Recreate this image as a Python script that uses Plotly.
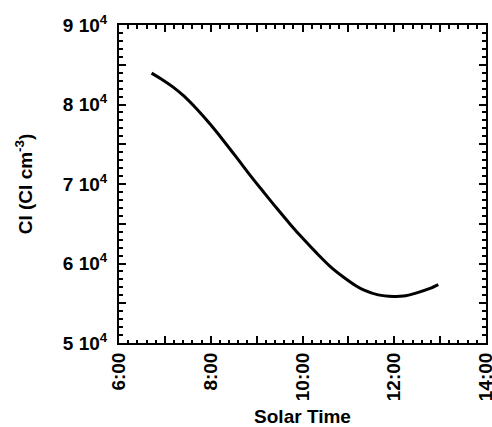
import plotly.graph_objects as go

solar_time = [6.71, 6.97, 7.18, 7.40, 7.69, 7.98, 8.27, 8.57, 8.86, 9.15, 9.44, 9.73,
              10.02, 10.31, 10.60, 10.89, 11.18, 11.33, 11.65, 11.98, 12.20, 12.49,
              12.78, 12.96]
cl_conc = [83950, 83030, 82190, 81140, 79460, 77570, 75510, 73280, 71090, 69000,
           66940, 64950, 63070, 61300, 59650, 58310, 57150, 56690, 56050, 55850,
           55900, 56310, 56860, 57340]

x_tickvals = [6, 7, 8, 9, 10, 11, 12, 13, 14]
x_ticktext = ["6:00", "", "8:00", "", "10:00", "", "12:00", "", "14:00"]
y_tickvals = [50000, 55000, 60000, 65000, 70000, 75000, 80000, 85000, 90000]
y_ticktext = ["5 10<sup>4</sup>", "", "6 10<sup>4</sup>", "", "7 10<sup>4</sup>", "",
              "8 10<sup>4</sup>", "", "9 10<sup>4</sup>"]

FONT = "Liberation Sans, Arial, sans-serif"

fig = go.Figure()
fig.add_trace(go.Scatter(x=solar_time, y=cl_conc, mode="lines",
                         line=dict(color="black", width=3, shape="spline", smoothing=0.8),
                         showlegend=False, hoverinfo="skip"))

axis_common = dict(showline=True, linecolor="black", linewidth=2, mirror="allticks",
                   ticks="inside", tickcolor="black", tickwidth=2, ticklen=7,
                   showgrid=False, zeroline=False, automargin=False,
                   ticklabeloverflow="allow",
                   tickfont=dict(family=FONT, size=19, color="black", weight="bold"))

fig.update_xaxes(range=[6, 14], tickvals=x_tickvals, ticktext=x_ticktext, tickangle=-90,
                 minor=dict(dtick=0.2, tick0=6, ticks="inside", ticklen=3.5,
                            tickcolor="black", tickwidth=2, showgrid=False),
                 title=dict(text="Solar Time", standoff=19,
                            font=dict(family=FONT, size=19, color="black", weight="bold")),
                 **axis_common)
fig.update_yaxes(range=[50000, 90000], tickvals=y_tickvals, ticktext=y_ticktext,
                 ticklabelstandoff=6,
                 minor=dict(dtick=1000, tick0=50000, ticks="inside", ticklen=4,
                            tickcolor="black", tickwidth=2, showgrid=False),
                 title=dict(text="Cl (Cl cm<sup>-3</sup>)", standoff=25,
                            font=dict(family=FONT, size=19, color="black", weight="bold")),
                 **axis_common)

fig.update_layout(width=492, height=427, margin=dict(l=119, r=6, t=25, b=84),
                  paper_bgcolor="white", plot_bgcolor="white")

fig.write_html("out.html", config={"displayModeBar": False},
               post_script="document.body.style.margin='0';document.body.style.overflow='hidden';")
